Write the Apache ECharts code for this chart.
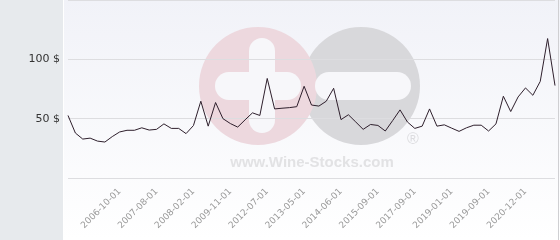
<!DOCTYPE html>
<html><head><meta charset="utf-8">
<script src="https://cdn.jsdelivr.net/npm/echarts@6/dist/echarts.min.js"></script>
<style>html,body{margin:0;padding:0;background:#fff}#c{width:560px;height:240px}</style>
</head><body><div id="c"></div>
<script>
var dates = [
 '2005-09-01','2005-11-01','2006-01-01','2006-03-01','2006-05-01','2006-07-01','2006-09-01',
 '2006-10-01','2006-12-01','2007-02-01','2007-04-01','2007-06-01',
 '2007-08-01','2007-09-01','2007-10-01','2007-11-01','2007-12-01',
 '2008-02-01','2008-06-01','2008-10-01','2009-02-01','2009-06-01',
 '2009-11-01','2010-05-01','2010-11-01','2011-05-01','2011-11-01',
 '2012-07-01','2012-09-01','2012-11-01','2013-01-01','2013-03-01',
 '2013-05-01','2013-07-01','2013-10-01','2014-01-01','2014-04-01',
 '2014-06-01','2014-09-01','2014-12-01','2015-03-01','2015-06-01',
 '2015-09-01','2016-01-01','2016-05-01','2016-09-01','2017-03-01',
 '2017-09-01','2017-12-01','2018-03-01','2018-07-01','2018-10-01',
 '2019-01-01','2019-02-01','2019-04-01','2019-06-01','2019-07-01',
 '2019-09-01','2019-12-01','2020-03-01','2020-06-01','2020-09-01',
 '2020-12-01','2021-03-01','2021-06-01','2021-09-01','2021-12-01'
];
var prices = [
 52.7,37.9,32.8,33.6,31.1,30.3,34.9,38.8,40.2,40.2,42.3,40.4,41.0,45.6,41.8,41.8,37.4,
 44.2,64.7,43.7,63.6,50.0,45.9,42.9,49.0,54.9,52.7,83.9,58.2,58.8,59.3,60.1,77.3,
 61.5,60.6,64.7,75.6,49.2,53.3,47.2,41.0,45.1,44.3,39.6,48.4,57.4,47.2,41.8,43.7,
 58.2,43.7,44.8,42.0,39.3,42.3,44.5,44.5,39.6,45.6,68.9,56.0,68.3,75.9,69.7,81.4,
 117.5,77.9
];
var yTicks = [50, 100];
var labelIdx = [7,12,17,22,27,32,37,42,47,52,57,62];

var chart = echarts.init(document.getElementById('c'), null, {renderer:'canvas'});
chart.setOption({
  animation: false,
  graphic: [
    {type:'rect', z:-10, silent:true, shape:{x:0,y:0,width:63,height:240}, style:{fill:'#e7eaed'}},
    {type:'rect', z:-10, silent:true, shape:{x:64,y:0,width:496,height:240},
      style:{fill:new echarts.graphic.LinearGradient(0,0,0,1,[{offset:0,color:'#f1f2f8'},{offset:1,color:'#ffffff'}])}},
    {type:'line', z:-9, silent:true, shape:{x1:558.5,y1:0,x2:558.5,y2:240}, style:{stroke:'#cfcfd2',lineWidth:1}},
    {type:'circle', z:-8, silent:true, shape:{cx:361,cy:86,r:59}, style:{fill:'#d8d8db'}},
    {type:'circle', z:-7, silent:true, shape:{cx:258,cy:86,r:59}, style:{fill:'#edd8de'}},
    {type:'rect', z:-6, silent:true, shape:{x:249,y:38,width:26,height:95,r:13}, style:{fill:'#f7f7fa'}},
    {type:'rect', z:-6, silent:true, shape:{x:215,y:72,width:86,height:28,r:14}, style:{fill:'#f7f7fa'}},
    {type:'rect', z:-6, silent:true, shape:{x:315,y:72,width:96,height:28,r:14}, style:{fill:'#f7f7fa'}},
    {type:'text', z:-6, silent:true, style:{x:312,y:163,text:'www.Wine-Stocks.com',fill:'#e2e2e4',
      font:'bold 15px "Liberation Sans", Arial, sans-serif',textAlign:'center',textVerticalAlign:'middle'}},
    {type:'text', z:-6, silent:true, style:{x:413,y:140,text:'®',fill:'#dcdcdf',
      font:'16px "Liberation Sans", Arial, sans-serif',textAlign:'center',textVerticalAlign:'middle'}}
  ],
  grid: {left:68, right:5, top:-5, bottom:62, containLabel:false},
  xAxis: {
    type:'category', data:dates, boundaryGap:false,
    axisLine:{show:false}, axisTick:{show:false}, splitLine:{show:false},
    axisLabel:{
      interval:function(i){return labelIdx.indexOf(i) >= 0;},
      rotate:45, margin:12, color:'#999999', fontSize:9,
      fontFamily:'"DejaVu Sans", Verdana, sans-serif'
    }
  },
  yAxis: {
    type:'value', min:0, max:150, interval:50,
    axisLine:{show:false}, axisTick:{show:false},
    splitLine:{show:true, lineStyle:{color:'#dddde0', width:1}},
    axisLabel:{
      margin:8, color:'#333', fontSize:11, fontFamily:'"DejaVu Sans", Verdana, sans-serif',
      formatter:function(v){return yTicks.indexOf(v) >= 0 ? v + ' $' : '';}
    }
  },
  series: [{
    type:'line', data:prices, showSymbol:false, symbol:'none',
    lineStyle:{color:'#2e1f2c', width:1}, z:5
  }]
});
</script></body></html>
